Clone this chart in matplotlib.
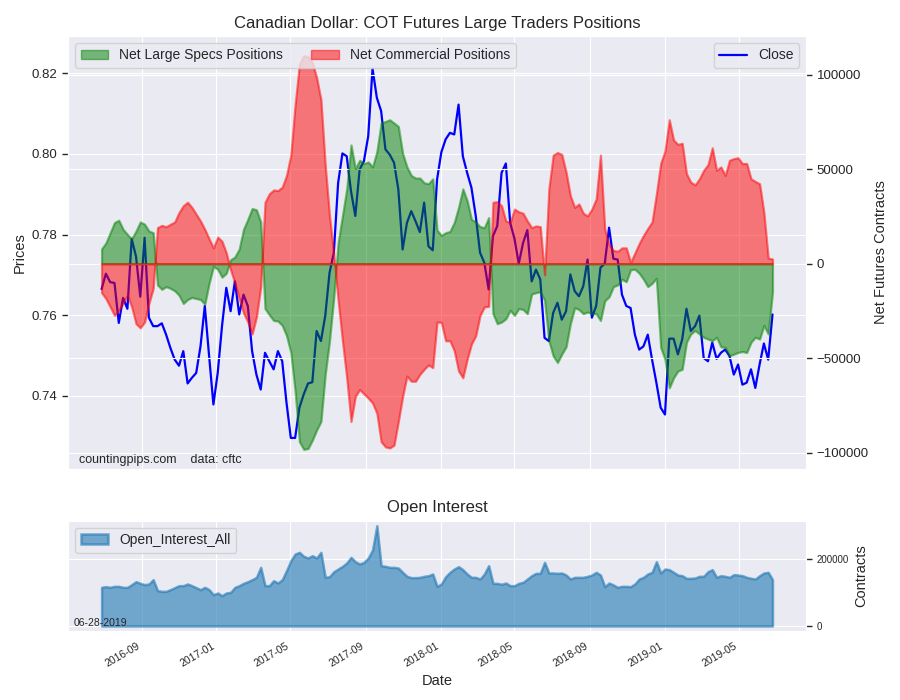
import matplotlib
matplotlib.use("Agg")
import matplotlib.pyplot as plt
import matplotlib.dates as mdates
import matplotlib.patches as mpatches
import pandas as pd
import seaborn as sns

sns.set_style("darkgrid")
plt.rcParams["font.family"] = ["Liberation Sans", "DejaVu Sans"]

# weekly COT report dates
dates = pd.date_range("2016-06-28", periods=157, freq="7D")

close = [
    0.7665, 0.7703, 0.7682, 0.7680, 0.7581, 0.7643, 0.7616, 0.7789, 0.7746, 0.7646,
    0.7792, 0.7594, 0.7573, 0.7573, 0.7580, 0.7552, 0.7519, 0.7490, 0.7475, 0.7511,
    0.7431, 0.7445, 0.7457, 0.7523, 0.7623, 0.7499, 0.7379, 0.7457, 0.7573, 0.7668,
    0.7610, 0.7684, 0.7602, 0.7651, 0.7623, 0.7511, 0.7453, 0.7416, 0.7507, 0.7486,
    0.7466, 0.7511, 0.7486, 0.7383, 0.7296, 0.7296, 0.7371, 0.7404, 0.7431, 0.7434,
    0.7561, 0.7536, 0.7598, 0.7705, 0.7755, 0.7928, 0.8001, 0.7994, 0.7907, 0.7846,
    0.7961, 0.7982, 0.8044, 0.8211, 0.8139, 0.8106, 0.8011, 0.7998, 0.7978, 0.7912,
    0.7763, 0.7829, 0.7858, 0.7833, 0.7806, 0.7879, 0.7771, 0.7761, 0.7936, 0.8004,
    0.8036, 0.8052, 0.8048, 0.8122, 0.7994, 0.7953, 0.7916, 0.7846, 0.7755, 0.7730,
    0.7664, 0.7796, 0.7821, 0.7953, 0.7976, 0.7829, 0.7790, 0.7728, 0.7779, 0.7811,
    0.7684, 0.7713, 0.7689, 0.7544, 0.7536, 0.7606, 0.7631, 0.7589, 0.7610, 0.7701,
    0.7660, 0.7647, 0.7672, 0.7738, 0.7594, 0.7623, 0.7718, 0.7728, 0.7817, 0.7740,
    0.7738, 0.7651, 0.7623, 0.7618, 0.7552, 0.7515, 0.7523, 0.7552, 0.7490, 0.7433,
    0.7371, 0.7354, 0.7542, 0.7542, 0.7503, 0.7540, 0.7616, 0.7561, 0.7573, 0.7599,
    0.7494, 0.7486, 0.7532, 0.7492, 0.7507, 0.7515, 0.7499, 0.7453, 0.7478, 0.7428,
    0.7433, 0.7466, 0.7420, 0.7478, 0.7530, 0.7490, 0.7602,
]

spec_net = [
    7800, 11000, 16400, 21800, 23000, 18200, 15500, 13200, 17300, 22100,
    20900, 17300, 16400, -11200, -13500, -12100, -13000, -14300, -16600, -21000,
    -18900, -17800, -18400, -18900, -21400, -10300, -1400, -2900, -7100, -5000,
    2100, 3600, 7800, 18200, 23500, 29200, 28500, 22100, -23700, -27000,
    -30000, -30300, -32600, -38000, -46900, -67400, -94100, -98100, -97700, -93300,
    -87900, -83400, -58500, -40700, -17500, 11100, 25300, 39600, 62800, 50300,
    54700, 53000, 53800, 51200, 59200, 74400, 75200, 76100, 74400, 72600,
    58300, 51200, 46700, 45300, 45300, 42800, 42300, 44900, 17800, 15000,
    16400, 17100, 21800, 29800, 39600, 33300, 23500, 22100, 19600, 19100,
    24400, -26400, -31700, -30800, -29100, -24600, -27300, -23700, -24200, -26400,
    -16000, -15300, -14800, -19300, -40700, -48700, -52200, -47800, -43900, -31700,
    -23200, -24200, -26400, -25500, -26400, -26400, -30000, -19600, -17500, -12100,
    -11200, -8200, -9500, -3200, -2900, -5000, -8200, -12100, -10300, -7700,
    -44200, -50500, -65600, -60300, -56700, -55800, -41500, -37100, -35300, -37100,
    -38900, -39800, -40700, -38900, -43900, -44200, -48700, -47800, -46900, -46400,
    -46900, -41500, -38900, -39800, -32600, -37100, -14800,
]

comm_net = [
    -15300, -18400, -22800, -27300, -24600, -21000, -16600, -22800, -31700, -33900,
    -30800, -21000, -13000, 19100, 20300, 19600, 20900, 22100, 27100, 30700,
    32500, 29800, 26200, 22600, 18200, 13200, 8400, 14100, 11900, 5700,
    -3200, -10300, -18400, -26000, -30800, -37100, -28200, -12100, 32500, 37000,
    39000, 38700, 40500, 46700, 57400, 84200, 105600, 110000, 109500, 106400,
    98400, 86800, 52100, 25300, 4800, -19300, -40700, -60300, -83400, -70100,
    -66500, -68800, -71000, -73600, -79000, -94100, -96800, -97400, -95900, -83400,
    -70100, -59400, -62100, -62100, -58500, -55800, -53500, -54900, -30800, -31000,
    -40700, -40700, -46000, -56700, -60300, -50500, -42400, -38000, -27300, -22800,
    -22500, 32500, 32800, 30700, 22600, 21800, 28900, 27500, 26700, 22600,
    19100, 20000, 19600, -5900, 39600, 57400, 58800, 57800, 48500, 36000,
    29800, 31600, 26700, 25300, 28900, 34200, 57400, 18200, 10200, 7100,
    6600, 8400, 8400, 700, 5700, 10700, 15000, 18700, 22100, 36900,
    53000, 59600, 76100, 65400, 63100, 63700, 47600, 43100, 41700, 44900,
    49400, 52400, 61300, 49400, 51200, 46700, 54700, 55600, 56000, 53000,
    53000, 44900, 43500, 42300, 27100, 3000, 2500,
]

open_interest = [
    115400, 117400, 115400, 118400, 118400, 115400, 115400, 123400, 132300, 127400,
    123400, 125400, 138300, 105500, 103500, 103500, 108500, 114400, 120400, 120400,
    125400, 120400, 114400, 108500, 115400, 108500, 93500, 98500, 90500, 98500,
    100500, 115400, 120400, 127400, 132300, 138300, 145300, 175100, 120400, 120400,
    135300, 128400, 138300, 165200, 195000, 214900, 219900, 208000, 203000, 209900,
    203000, 219900, 145300, 147300, 162200, 170100, 178100, 188100, 205000, 192000,
    185100, 190000, 203000, 226900, 299500, 180100, 178100, 175100, 175100, 173100,
    160200, 148300, 144300, 144300, 145300, 148300, 150200, 155200, 118400, 125400,
    147300, 160200, 170100, 177100, 168200, 155200, 145300, 145300, 140300, 155200,
    180100, 127400, 127400, 124400, 128400, 120400, 120400, 127400, 130300, 140300,
    150200, 157200, 157200, 190000, 158200, 158200, 157200, 158200, 152200, 140300,
    145300, 145300, 145300, 148300, 152200, 160200, 152200, 117400, 128400, 122400,
    115400, 118400, 118400, 117400, 125400, 140300, 145300, 155200, 160200, 192000,
    158200, 170100, 168200, 160200, 152200, 150200, 142300, 142300, 143300, 148300,
    148300, 162200, 168200, 145300, 150200, 148300, 145300, 153200, 152200, 150200,
    145300, 142300, 140300, 150200, 158200, 160200, 138300,
]

fig = plt.figure(figsize=(9, 7), dpi=100)
ax1 = fig.add_axes([0.0756, 0.330, 0.82, 0.6186])
ax2 = ax1.twinx()
ax3 = fig.add_axes([0.0756, 0.0986, 0.82, 0.1576], sharex=ax1)

# price line on the left axis
close_line, = ax1.plot(dates, close, color="blue", lw=1.6, label="Close")
ax1.set_ylim(0.7219, 0.8292)
ax1.set_ylabel("Prices", fontsize=10.5)

# positions on the right axis
ax2.fill_between(dates, 0, spec_net, facecolor="green", edgecolor="green",
                 alpha=0.5, lw=1.6)
ax2.fill_between(dates, 0, comm_net, facecolor="red", edgecolor="red",
                 alpha=0.5, lw=1.6)
ax2.set_ylabel("Net Futures Contracts", fontsize=10.5)
ax2.grid(True)

spec_patch = mpatches.Patch(facecolor="green", edgecolor="green", alpha=0.5,
                            label="Net Large Specs Positions")
comm_patch = mpatches.Patch(facecolor="red", edgecolor="red", alpha=0.5,
                            label="Net Commercial Positions")
leg = ax2.legend(handles=[spec_patch, comm_patch], loc="upper left", ncol=2,
                 fontsize=10)
ax2.add_artist(leg)
ax2.legend(handles=[close_line], loc="upper right", fontsize=10)

ax1.set_title("Canadian Dollar: COT Futures Large Traders Positions", fontsize=12)
ax1.text(0.015, 0.008, "countingpips.com    data: cftc", transform=ax1.transAxes,
         fontsize=9, va="bottom", ha="left")

# small dash ticks on both price and contracts axes
ax1.tick_params(axis="y", left=True, right=False, labelsize=9.5, length=4,
                width=1, color=".15")
ax2.tick_params(axis="y", left=False, right=True, labelsize=9.5, length=4,
                width=1, color=".15")
plt.setp(ax1.get_xticklabels(), visible=False)

# open interest panel
ax3.fill_between(dates, 0, open_interest, color="#1f77b4", alpha=0.6, lw=1.8,
                 label="Open_Interest_All")
ax3.yaxis.tick_right()
ax3.yaxis.set_label_position("right")
ax3.set_yticks([0, 200000])
ax3.tick_params(axis="y", labelsize=7, length=4, width=1, color=".15",
                right=True, left=False)
ax3.set_ylabel("Contracts", fontsize=10.5)
ax3.set_title("Open Interest", fontsize=12)
ax3.legend(loc="upper left", fontsize=10)
ax3.text(0.008, 0.03, "06-28-2019", transform=ax3.transAxes, fontsize=7.5,
         va="bottom", ha="left")
ax3.set_xlabel("Date", fontsize=10.5)

ax3.xaxis.set_major_locator(mdates.MonthLocator(bymonth=[1, 5, 9]))
ax3.xaxis.set_major_formatter(mdates.DateFormatter("%Y-%m"))
plt.setp(ax3.get_xticklabels(), rotation=30, ha="right", fontsize=7.5)

fig.savefig("out.png", dpi=100)
